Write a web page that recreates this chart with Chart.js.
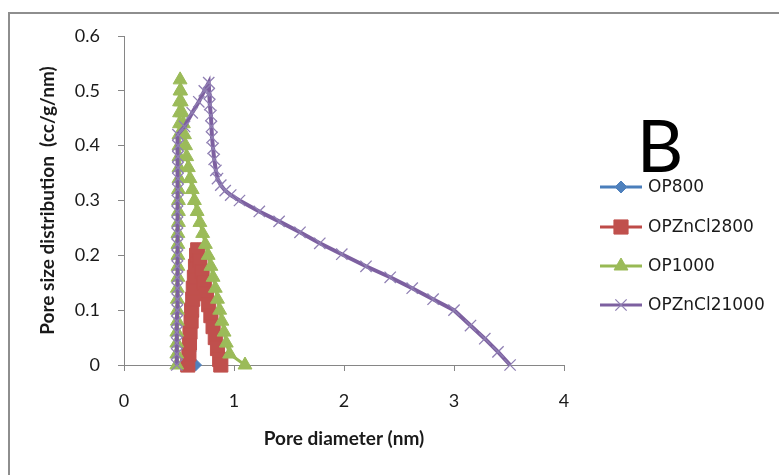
<!DOCTYPE html>
<html>
<head>
<meta charset="utf-8">
<title>Pore size distribution</title>
<script src="https://cdn.jsdelivr.net/npm/chart.js@4.4.1/dist/chart.umd.min.js"></script>
<style>
  html, body { margin: 0; padding: 0; background: #fff; overflow: hidden; }
  canvas { display: block; }
</style>
</head>
<body>
<canvas id="psd" width="779" height="475"></canvas>
<script>
// pore diameter (nm) / distribution (cc/g/nm) for each sample
const op800Diam = [0.60, 0.65];
const op800Dist = [0.025, 0.0];

const opZn800Diam = [0.58, 0.59, 0.595, 0.60, 0.61, 0.615, 0.625, 0.63, 0.64, 0.65, 0.66, 0.67,
  0.69, 0.71, 0.73, 0.75, 0.77, 0.79, 0.81, 0.83, 0.85, 0.87, 0.88];
const opZn800Dist = [0.0, 0.02, 0.04, 0.06, 0.08, 0.10, 0.12, 0.14, 0.16, 0.18, 0.20, 0.21,
  0.19, 0.17, 0.15, 0.13, 0.11, 0.09, 0.07, 0.05, 0.03, 0.01, 0.0];

const op1000Diam = [0.48, 0.48, 0.48, 0.48, 0.485, 0.485, 0.485, 0.485, 0.49, 0.49, 0.49, 0.49, 0.49,
  0.495, 0.495, 0.495, 0.495, 0.50, 0.50, 0.50, 0.50, 0.50, 0.505, 0.505, 0.505, 0.51, 0.51,
  0.515, 0.52, 0.53, 0.54, 0.55, 0.56, 0.57, 0.585, 0.60, 0.62, 0.64, 0.665, 0.69, 0.715,
  0.74, 0.765, 0.79, 0.81, 0.83, 0.85, 0.87, 0.89, 0.91, 0.93, 0.96, 1.10];
const op1000Dist = [0.0, 0.02, 0.04, 0.06, 0.08, 0.10, 0.12, 0.14, 0.16, 0.18, 0.20, 0.22, 0.24,
  0.26, 0.28, 0.30, 0.32, 0.34, 0.36, 0.38, 0.40, 0.42, 0.44, 0.46, 0.48, 0.50, 0.52,
  0.50, 0.48, 0.46, 0.44, 0.42, 0.40, 0.38, 0.36, 0.34, 0.32, 0.30, 0.28, 0.26, 0.24,
  0.22, 0.20, 0.18, 0.16, 0.14, 0.12, 0.10, 0.08, 0.06, 0.04, 0.02, 0.0];

const opZn1000Diam = [0.48, 0.48, 0.48, 0.48, 0.48, 0.485, 0.485, 0.485, 0.485, 0.485, 0.485,
  0.485, 0.485, 0.485, 0.485, 0.485, 0.49, 0.49, 0.49, 0.49, 0.49, 0.49,
  0.55, 0.62, 0.68, 0.73, 0.77,
  0.775, 0.78, 0.79, 0.795, 0.80, 0.81, 0.82, 0.835, 0.85, 0.88, 0.92, 0.97, 1.05,
  1.23, 1.41, 1.60, 1.78, 1.98, 2.20, 2.42, 2.62, 2.81, 3.00, 3.15, 3.28, 3.40, 3.51];
const opZn1000Dist = [0.0, 0.02, 0.04, 0.06, 0.08, 0.10, 0.12, 0.14, 0.16, 0.18, 0.20,
  0.22, 0.24, 0.26, 0.28, 0.30, 0.32, 0.34, 0.36, 0.38, 0.40, 0.42,
  0.435, 0.46, 0.48, 0.50, 0.515,
  0.495, 0.475, 0.455, 0.435, 0.415, 0.395, 0.375, 0.355, 0.34, 0.328, 0.318, 0.31, 0.30,
  0.28, 0.262, 0.242, 0.222, 0.202, 0.18, 0.16, 0.14, 0.12, 0.10, 0.072, 0.048, 0.024, 0.0];

const seriesNames = ['OP800', 'OPZnCl2800', 'OP1000', 'OPZnCl21000'];
const xTickLabels = ['0', '1', '2', '3', '4'];
const yTickLabels = ['0', '0.1', '0.2', '0.3', '0.4', '0.5', '0.6'];
const xTitle = 'Pore diameter (nm)';
const yTitle = 'Pore size distribution  (cc/g/nm)';
const panelLabel = 'B';

const axisGray = '#868686';
const textColor = '#1a1a1a';

function toPoints(xs, ys) {
  return xs.map((x, i) => ({ x: x, y: ys[i] }));
}

// legend rows on the right, drawn by hand so each entry shows line + marker
const legendRows = [187, 227, 266, 305];

const chartDecor = {
  id: 'chartDecor',
  beforeDraw(chart) {
    const ctx = chart.ctx;
    ctx.save();
    ctx.fillStyle = '#fff';
    ctx.fillRect(0, 0, chart.width, chart.height);
    ctx.strokeStyle = '#8e8e8e';
    ctx.lineWidth = 2;
    ctx.strokeRect(9, 13, 900, 600);
    ctx.restore();
  },
  afterDraw(chart) {
    const ctx = chart.ctx;
    ctx.save();
    ctx.fillStyle = '#000';
    ctx.font = '72px Lato';
    ctx.textAlign = 'center';
    ctx.textBaseline = 'middle';
    ctx.fillText(panelLabel, 660, 149);

    chart.data.datasets.forEach((ds, i) => {
      const y = legendRows[i];
      ctx.strokeStyle = ds.borderColor;
      ctx.lineWidth = 3;
      ctx.beginPath();
      ctx.moveTo(600, y);
      ctx.lineTo(642, y);
      ctx.stroke();

      ctx.fillStyle = ds.pointBackgroundColor;
      ctx.strokeStyle = ds.pointBorderColor;
      ctx.lineWidth = ds.pointBorderWidth;
      Chart.helpers.drawPoint(ctx, {
        pointStyle: ds.pointStyle,
        radius: ds.pointRadius,
        rotation: 0,
        borderWidth: ds.pointBorderWidth
      }, 621, y);

      ctx.fillStyle = textColor;
      ctx.font = '17px "DejaVu Sans"';
      ctx.textAlign = 'left';
      ctx.textBaseline = 'middle';
      ctx.fillText(ds.label, 648, y + 1);
    });
    ctx.restore();
  }
};

function series(name, xs, ys, line, fill, style, radius, order, lineWidth) {
  return {
    label: name,
    data: toPoints(xs, ys),
    showLine: true,
    borderColor: line,
    borderWidth: lineWidth,
    pointStyle: style,
    pointRadius: radius,
    pointBackgroundColor: fill,
    pointBorderColor: style === 'crossRot' ? '#8f7fb3' : fill,
    pointBorderWidth: style === 'crossRot' ? 1.3 : 1,
    tension: 0,
    clip: false,
    order: order
  };
}

const tickFont = { family: 'Lato', size: 18 };
const titleFont = { family: 'Lato', size: 19, weight: 'bold' };

new Chart(document.getElementById('psd'), {
  type: 'scatter',
  data: {
    datasets: [
      series(seriesNames[0], op800Diam, op800Dist, '#4a7ebb', '#4f81bd', 'rectRot', 6, 4, 3),
      series(seriesNames[1], opZn800Diam, opZn800Dist, '#be4b48', '#c0504d', 'rect', 10, 3, 3),
      series(seriesNames[2], op1000Diam, op1000Dist, '#98b954', '#9bbb59', 'triangle', 8, 2, 3),
      series(seriesNames[3], opZn1000Diam, opZn1000Dist, '#7d60a0', '#8064a2', 'crossRot', 8, 1, 4)
    ]
  },
  options: {
    responsive: false,
    animation: false,
    events: [],
    layout: {
      autoPadding: false,
      padding: { top: 36, right: 215, bottom: 0, left: 0 }
    },
    plugins: {
      legend: { display: false },
      tooltip: { enabled: false }
    },
    scales: {
      x: {
        type: 'linear',
        min: 0,
        max: 4,
        afterFit: s => { s.height = 110; },
        ticks: {
          stepSize: 1,
          padding: 19,
          color: textColor,
          font: tickFont,
          callback: (v, i) => xTickLabels[i]
        },
        grid: { drawOnChartArea: false, drawTicks: true, tickLength: 6, color: axisGray },
        border: { color: axisGray, width: 1 },
        title: {
          display: true,
          text: xTitle,
          color: textColor,
          font: titleFont,
          padding: { top: 0, bottom: 25 }
        }
      },
      y: {
        type: 'linear',
        min: 0,
        max: 0.6,
        afterFit: s => { s.width = 124; },
        ticks: {
          stepSize: 0.1,
          padding: 18,
          color: textColor,
          font: tickFont,
          callback: (v, i) => yTickLabels[i]
        },
        grid: { drawOnChartArea: false, drawTicks: true, tickLength: 6, color: axisGray },
        border: { color: axisGray, width: 1 },
        title: {
          display: true,
          text: yTitle,
          color: textColor,
          font: titleFont,
          padding: { top: 36, bottom: 0 }
        }
      }
    }
  },
  plugins: [chartDecor]
});
</script>
</body>
</html>
